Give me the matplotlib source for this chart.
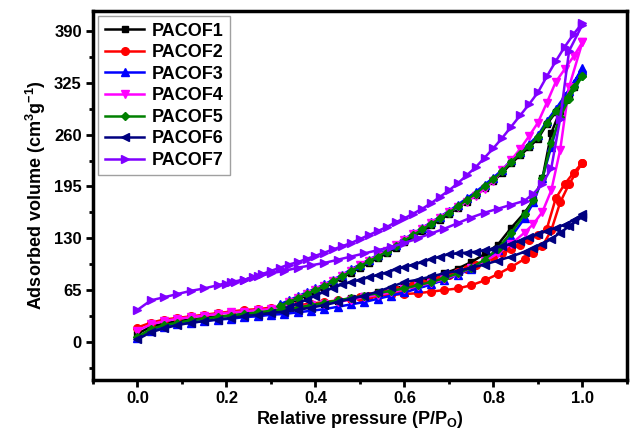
import matplotlib.pyplot as plt
from matplotlib.ticker import MultipleLocator

plt.rcParams['font.family'] = ['Liberation Sans', 'DejaVu Sans']
plt.rcParams['font.weight'] = 'bold'
plt.rcParams['mathtext.fontset'] = 'custom'
plt.rcParams['mathtext.rm'] = 'Liberation Sans:bold'
plt.rcParams['mathtext.default'] = 'rm'

# shared pressure grids (P/P0)
p_ads = [0.0, 0.03, 0.06, 0.09, 0.12, 0.15, 0.18, 0.21, 0.24, 0.27, 0.30, 0.33,
         0.36, 0.39, 0.42, 0.45, 0.48, 0.51, 0.54, 0.57, 0.60, 0.63, 0.66, 0.69,
         0.72, 0.75, 0.78, 0.81, 0.84, 0.87, 0.89, 0.91, 0.93, 0.95, 0.97, 1.0]
p_des = [1.0, 0.98, 0.96, 0.94, 0.92, 0.90, 0.88, 0.86, 0.84, 0.82, 0.80, 0.78,
         0.76, 0.74, 0.72, 0.70, 0.68, 0.66, 0.64, 0.62, 0.60, 0.58, 0.56, 0.54,
         0.52, 0.50, 0.48, 0.46, 0.44, 0.42, 0.40, 0.38, 0.36, 0.34, 0.32, 0.30,
         0.28, 0.26, 0.24, 0.22, 0.20]

# adsorption branches
pacof1_ads = [10, 19, 23, 26, 28, 30, 32, 33, 35, 36, 38, 40, 42, 45, 48, 51, 55, 58,
              62, 66, 70, 75, 80, 86, 92, 100, 110, 122, 143, 162, 178, 205, 262, 290, 310, 337]
pacof2_ads = [18, 24, 28, 30, 32, 34, 36, 38, 40, 41, 43, 44, 46, 48, 50, 52, 54, 56,
              58, 59, 60, 61, 63, 65, 67, 71, 77, 85, 94, 104, 112, 120, 140, 175, 198, 225]
pacof3_ads = [5, 14, 19, 22, 24, 26, 28, 29, 31, 32, 34, 35, 37, 39, 41, 44, 47, 50,
              54, 58, 62, 67, 72, 78, 84, 92, 102, 115, 132, 155, 175, 205, 245, 285, 315, 344]
pacof4_ads = [14, 22, 26, 29, 31, 33, 35, 37, 38, 40, 41, 43, 44, 46, 48, 50, 53, 56,
              59, 62, 66, 70, 74, 79, 85, 93, 101, 111, 123, 137, 148, 163, 190, 241, 320, 376]
pacof5_ads = [6, 16, 21, 24, 27, 29, 31, 33, 35, 37, 39, 41, 43, 46, 49, 52, 55, 58,
              61, 64, 67, 71, 75, 80, 86, 93, 103, 117, 137, 160, 178, 205, 250, 282, 305, 334]
pacof6_ads = [3, 12, 17, 21, 24, 26, 28, 30, 32, 34, 36, 38, 40, 43, 46, 50, 54, 58,
              63, 69, 75, 78, 82, 86, 89, 93, 97, 102, 107, 113, 118, 123, 129, 137, 145, 157]
pacof7_ads = [40, 52, 56, 60, 64, 67, 71, 75, 78, 82, 86, 89, 93, 96, 99, 103, 107, 111,
              115, 119, 124, 130, 136, 142, 149, 156, 162, 167, 172, 177, 186, 198, 218, 280, 365, 398]

# desorption branches (read along p_des from 1.0 downwards)
pacof1_des = [336, 320, 303, 288, 273, 255, 244, 234, 224, 212, 202, 193, 184, 176, 168,
              160, 153, 146, 139, 132, 125, 118, 111, 105, 99, 93, 87, 80, 74, 68, 63, 58, 53, 48, 43]
pacof2_des = [225, 212, 198, 180, 142, 134, 128, 122, 116, 111, 106, 101, 96, 92, 88,
              84, 80, 77, 74, 71, 68, 65, 62, 60, 58, 56, 54]
pacof3_des = [341, 325, 308, 292, 277, 259, 248, 238, 228, 216, 206, 197, 188, 180, 172,
              164, 157, 150, 143, 136, 129, 122, 115, 109, 103, 97, 91, 84, 78, 72, 67, 62, 57, 52, 47]
pacof4_des = [376, 358, 342, 326, 300, 275, 258, 242, 228, 215, 202, 192, 183, 176, 169,
              163, 156, 149, 142, 135, 128, 121, 114, 108, 102, 96, 89, 82, 76, 70, 65, 60, 55, 50]
pacof5_des = [334, 320, 304, 289, 275, 257, 246, 236, 226, 214, 204, 195, 186, 178, 170,
              162, 155, 148, 141, 134, 127, 120, 113, 107, 101, 95, 89, 82, 76, 70, 65, 60, 55, 50, 45]
pacof6_des = [160, 153, 147, 143, 139, 135, 131, 127, 123, 120, 117, 115, 113, 112, 111,
              110, 107, 104, 100, 97, 94, 91, 87, 84, 81, 78, 75, 72, 68, 63, 58, 53, 48, 44]
pacof7_des = [400, 386, 370, 352, 333, 313, 298, 284, 270, 256, 243, 231, 219, 209, 199,
              190, 182, 174, 167, 161, 155, 150, 144, 139, 134, 129, 124, 120, 116, 112, 108,
              104, 100, 97, 93, 89, 85, 81, 78, 75, 72]

labels = ['PACOF1', 'PACOF2', 'PACOF3', 'PACOF4', 'PACOF5', 'PACOF6', 'PACOF7']
ads = [pacof1_ads, pacof2_ads, pacof3_ads, pacof4_ads, pacof5_ads, pacof6_ads, pacof7_ads]
des = [pacof1_des, pacof2_des, pacof3_des, pacof4_des, pacof5_des, pacof6_des, pacof7_des]
colors = ['#000000', '#FF0000', '#0000FF', '#FF00FF', '#008000', '#000080', '#8000FF']
markers = ['s', 'o', '^', 'v', 'D', '<', '>']
msizes = [4.5, 5.5, 5.5, 5.5, 4.5, 5.5, 5.5]

fig = plt.figure(figsize=(6.32, 4.42), dpi=100)
ax = fig.add_axes([0.147, 0.140, 0.845, 0.835])

for lab, a, d, c, m, ms in zip(labels, ads, des, colors, markers, msizes):
    pd_ = p_des[:len(d)]
    ax.plot(p_ads + pd_, a + d, color=c, marker=m, ms=ms, lw=1.8, label=lab)

ax.set_xlim(-0.1, 1.1)
ax.set_ylim(-48, 415)
ax.xaxis.set_minor_locator(MultipleLocator(0.1))
ax.yaxis.set_minor_locator(MultipleLocator(32.5))
ax.set_yticks([0, 65, 130, 195, 260, 325, 390])
ax.set_xticks([0.0, 0.2, 0.4, 0.6, 0.8, 1.0])

for s in ax.spines.values():
    s.set_linewidth(2.5)
ax.tick_params(which='major', direction='out', length=5, width=2, labelsize=12, pad=3)
ax.tick_params(which='minor', direction='out', length=3, width=2)
for t in ax.get_xticklabels() + ax.get_yticklabels():
    t.set_fontweight('bold')

ax.set_xlabel('Relative pressure (P/P$_O$)', fontsize=13, fontweight='bold', labelpad=2)
ax.set_ylabel('Adsorbed volume (cm$^3$g$^{-1}$)', fontsize=13, fontweight='bold', labelpad=4)

leg = ax.legend(loc='upper left', fancybox=False, edgecolor='#888888',
                handlelength=2.2, borderpad=0.35, labelspacing=0.25, handletextpad=0.4,
                borderaxespad=0.3, prop={'weight': 'bold', 'size': 13})
leg.get_frame().set_linewidth(1.0)

fig.savefig('out.png', dpi=100)
